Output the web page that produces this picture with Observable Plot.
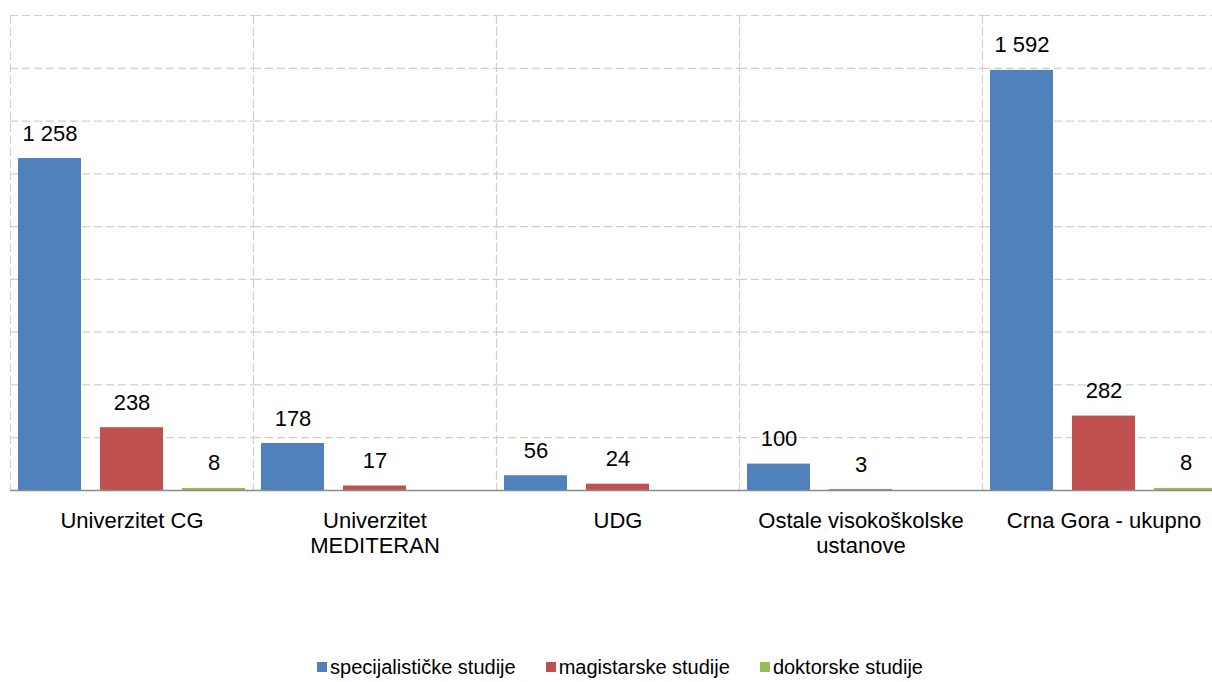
<!DOCTYPE html>
<html><head><meta charset="utf-8">
<script src="https://cdn.jsdelivr.net/npm/d3@7"></script>
<script src="https://cdn.jsdelivr.net/npm/@observablehq/plot@0.6"></script>
<style>
html,body{margin:0;padding:0;background:#fff;overflow:hidden;}
body{font-family:"Liberation Sans",Arial,sans-serif;}
#chart{width:1240px;}
.legend{display:flex;justify-content:center;width:1240px;margin-top:34px;font-size:20px;color:#000;line-height:26px;}
.legend .item{display:inline-flex;align-items:center;margin-right:30px;}
.legend .item:last-child{margin-right:0;}
.legend .sw{width:10px;height:10px;margin-right:3px;display:inline-block;}
</style></head><body>
<div id="chart"></div>
<script>
const categories = ["Univerzitet CG", "Univerzitet MEDITERAN", "UDG", "Ostale visokoškolske ustanove", "Crna Gora - ukupno"];
const categoryLabels = ["Univerzitet CG", "Univerzitet\nMEDITERAN", "UDG", "Ostale visokoškolske\nustanove", "Crna Gora - ukupno"];
const series = ["specijalističke studije", "magistarske studije", "doktorske studije"];
const specijalisticke = [1258, 178, 56, 100, 1592];
const magistarske = [238, 17, 24, 3, 282];
const doktorske = [8, null, null, null, 8];
const seriesColors = ["#4F81BD", "#C0504D", "#9BBB59"];
const gridTicks = [200, 400, 600, 800, 1000, 1200, 1400, 1600, 1800];

const values = [specijalisticke, magistarske, doktorske];
const data = [];
categories.forEach((c, i) => {
  series.forEach((s, j) => {
    const v = values[j][i];
    if (v != null) data.push({category: c, series: s, value: v});
  });
});
const labelOf = new Map(categories.map((c, i) => [c, categoryLabels[i]]));
const locale = d3.formatLocale({decimal: ",", thousands: " ", grouping: [3], currency: ["", ""]});
const fmt = locale.format(",d");

const hasAxisFx = typeof Plot.axisFx === "function";
const marks = [
  Plot.ruleY(gridTicks, {y: d => d, stroke: "#cfcfcf", strokeWidth: 1.2, strokeDasharray: "8,4"}),
  Plot.frame({anchor: "left", stroke: "#cfcfcf", strokeWidth: 1.2, strokeDasharray: "8,4"}),
  Plot.barY(data, {fx: "category", x: "series", y: "value", fill: "series"}),
  Plot.ruleY([0], {stroke: "#8a8a8a", strokeWidth: 1.6}),
  Plot.text(data, {fx: "category", x: "series", y: "value", text: d => fmt(d.value), dy: -25, fontSize: 22, fill: "#000"})
];
if (hasAxisFx) {
  marks.push(Plot.axisFx({anchor: "bottom", tickSize: 0, tickPadding: 20, fontSize: 22, fill: "#000", lineHeight: 1.14, label: null, tickFormat: d => labelOf.get(d)}));
}

const chart = Plot.plot({
  width: 1240,
  height: 620,
  marginLeft: 10,
  marginRight: 15,
  marginTop: 15,
  marginBottom: 130,
  style: {fontFamily: "'Liberation Sans', Arial, sans-serif", background: "#fff", color: "#000", overflow: "visible"},
  fx: {domain: categories, padding: 0, label: null, ...(hasAxisFx ? {axis: null} : {axis: "bottom", tickSize: 0, tickPadding: 20, tickFormat: d => labelOf.get(d)})},
  x: {domain: series, paddingInner: 0.23, paddingOuter: 0.09, axis: null},
  y: {domain: [0, 1800], axis: null},
  color: {domain: series, range: seriesColors},
  marks
});
document.getElementById("chart").appendChild(chart);

// legend from the plot's color scale
const cs = chart.scale("color");
const legend = d3.select("body").append("div").attr("class", "legend");
cs.domain.forEach((name, i) => {
  const item = legend.append("span").attr("class", "item");
  item.append("span").attr("class", "sw").style("background", cs.range[i]);
  item.append("span").text(name);
});
</script>
</body></html>
